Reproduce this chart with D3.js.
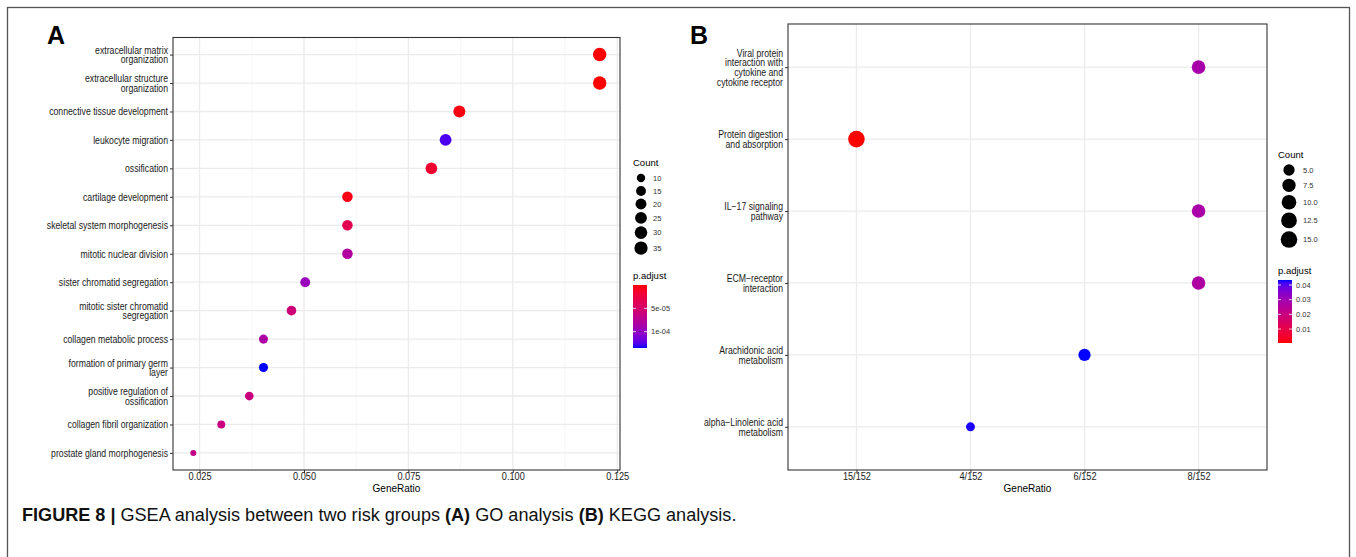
<!DOCTYPE html>
<html>
<head>
<meta charset="utf-8">
<script src="https://cdn.jsdelivr.net/npm/d3@7"></script>
<style>
  body { margin: 0; background: #fff; }
  svg { display: block; font-family: "Liberation Sans", Arial, sans-serif; }
</style>
</head>
<body>
<svg id="chart" width="1356" height="557"></svg>
<script>
// Panel A - GO terms (top to bottom)
const goTerms = [
    'extracellular matrix\norganization',
    'extracellular structure\norganization',
    'connective tissue development',
    'leukocyte migration',
    'ossification',
    'cartilage development',
    'skeletal system morphogenesis',
    'mitotic nuclear division',
    'sister chromatid segregation',
    'mitotic sister chromatid\nsegregation',
    'collagen metabolic process',
    'formation of primary germ\nlayer',
    'positive regulation of\nossification',
    'collagen fibril organization',
    'prostate gland morphogenesis'
];
const goRatio = [0.1208, 0.1208, 0.0872, 0.0839, 0.0805, 0.0604, 0.0604, 0.0604, 0.0503, 0.0470, 0.0403, 0.0403, 0.0369, 0.0302, 0.0235];
const goCount = [36, 36, 26, 25, 24, 18, 18, 18, 15, 14, 12, 12, 11, 9, 7];
const goPadj = [2e-9, 2e-9, 4e-6, 1.27e-4, 1.6e-5, 5e-6, 3.5e-5, 8.1e-5, 9.7e-5, 5.7e-5, 8.4e-5, 1.35e-4, 6.1e-5, 6.3e-5, 6.7e-5];
const goTicks = [0.025, 0.050, 0.075, 0.100, 0.125];
const goCountBreaks = [10, 15, 20, 25, 30, 35];
const goPadjBreaks = [5e-5, 1e-4];
const goPadjLabels = ['5e-05', '1e-04'];

// Panel B - KEGG pathways (top to bottom)
const keggTerms = [
    'Viral protein\ninteraction with\ncytokine and\ncytokine receptor',
    'Protein digestion\nand absorption',
    'IL\u221217 signaling\npathway',
    'ECM\u2212receptor\ninteraction',
    'Arachidonic acid\nmetabolism',
    'alpha\u2212Linolenic acid\nmetabolism'
];
const keggRatio = ['8/152', '15/152', '8/152', '8/152', '6/152', '4/152'];
const keggCount = [8, 15, 8, 8, 6, 4];
const keggPadj = [0.0284, 0.0005, 0.0280, 0.0270, 0.0434, 0.0430];
const keggTicks = ['15/152', '4/152', '6/152', '8/152'];
const keggCountBreaks = [5, 7.5, 10, 12.5, 15];
const keggPadjBreaks = [0.01, 0.02, 0.03, 0.04];

const svg = d3.select('#chart');

// Outer figure frame
svg.append('rect')
    .attr('x', 7.5).attr('y', 7.5)
    .attr('width', 1342).attr('height', 620)
    .attr('fill', 'none')
    .attr('stroke', '#555')
    .attr('stroke-width', 1.3);

// ggplot style 5% expansion for continuous axis
const expand = ([a, b]) => { const d = (b - a) * 0.05; return [a - d, b + d]; };

// ggplot area_pal style size scale (radius linear in sqrt of rescaled count)
const sizeScale = (counts, range) => {
    const [lo, hi] = d3.extent(counts);
    const s = d3.scaleSqrt().domain([0, hi - lo]).range(range);
    return c => s(c - lo);
};

// horizontal squeeze of the narrow axis font in the original figure
const narrow = 0.87;

function drawPanel(cfg) {
    const { left, right, top, bottom, x, y, r, color } = cfg;
    const g = svg.append('g');
    const lineH = 9.6;

    // Panel letter
    g.append('text')
        .attr('x', cfg.letterX).attr('y', 44)
        .attr('font-weight', 'bold')
        .attr('font-size', 25)
        .text(cfg.letter);

    // Grid lines
    (cfg.minorX || []).forEach(v => {
        g.append('line')
            .attr('x1', x(v)).attr('x2', x(v))
            .attr('y1', top).attr('y2', bottom)
            .attr('stroke', '#f2f2f2').attr('stroke-width', 0.7);
    });
    g.selectAll('.vgrid')
        .data(cfg.xTicks)
        .enter()
        .append('line')
        .attr('x1', d => x(d)).attr('x2', d => x(d))
        .attr('y1', top).attr('y2', bottom)
        .attr('stroke', '#ebebeb').attr('stroke-width', 1.3);
    g.selectAll('.hgrid')
        .data(y.domain())
        .enter()
        .append('line')
        .attr('x1', left).attr('x2', right)
        .attr('y1', d => y(d)).attr('y2', d => y(d))
        .attr('stroke', '#ebebeb').attr('stroke-width', 1.3);

    // Points
    g.selectAll('.dot')
        .data(cfg.data)
        .enter()
        .append('circle')
        .attr('cx', d => x(d.x))
        .attr('cy', d => y(d.term))
        .attr('r', d => r(d.count))
        .attr('fill', d => color(d.p));

    // Panel border
    g.append('rect')
        .attr('x', left).attr('y', top)
        .attr('width', right - left).attr('height', bottom - top)
        .attr('fill', 'none')
        .attr('stroke', '#333').attr('stroke-width', 1.1);

    // Y axis with multi-line labels
    const ay = g.append('g')
        .attr('transform', `translate(${left},0)`)
        .call(d3.axisLeft(y).tickSize(3).tickPadding(2));
    ay.select('.domain').remove();
    ay.selectAll('line').attr('stroke', '#333');
    ay.selectAll('text')
        .attr('font-size', 10)
        .attr('fill', '#1a1a1a')
        .attr('font-family', null)
        .each(function (d) {
            const lines = d.split('\n');
            const t = d3.select(this).text(null).attr('dy', null).attr('x', null)
                .attr('transform', `translate(-5,0) scale(${narrow},1)`);
            lines.forEach((l, i) => {
                t.append('tspan')
                    .attr('x', 0)
                    .attr('y', (i - (lines.length - 1) / 2) * lineH)
                    .attr('dy', '0.35em')
                    .text(l);
            });
        });

    // X axis
    const ax = g.append('g')
        .attr('transform', `translate(0,${bottom})`)
        .call(d3.axisBottom(x).tickValues(cfg.xTicks).tickSize(3).tickPadding(0).tickFormat(cfg.xFormat));
    ax.select('.domain').remove();
    ax.selectAll('line').attr('stroke', '#333');
    ax.selectAll('text')
        .attr('font-size', 10)
        .attr('fill', '#1a1a1a')
        .attr('font-family', null)
        .attr('transform', `scale(0.92,1)`)
        .attr('x', function () { return 0; });
    ax.selectAll('.tick').each(function (d) {
        d3.select(this).select('text').attr('transform', 'scale(0.92,1)');
    });

    // X axis title
    g.append('text')
        .attr('x', (left + right) / 2)
        .attr('y', 492)
        .attr('text-anchor', 'middle')
        .attr('font-size', 10)
        .attr('fill', '#000')
        .text('GeneRatio');

    // Count legend
    const lg = cfg.legend;
    g.append('text')
        .attr('x', lg.x).attr('y', lg.countY)
        .attr('font-size', 9.5)
        .text('Count');
    let cy = lg.countY + 12;
    const keys = cfg.countBreaks.map((c, i) => {
        if (i > 0) cy += Math.max(lg.minGap, r(cfg.countBreaks[i - 1]) + r(c) + lg.gapPad);
        return { c, cy };
    });
    g.selectAll('.key')
        .data(keys)
        .enter()
        .append('circle')
        .attr('cx', lg.x + lg.keyDx)
        .attr('cy', d => d.cy)
        .attr('r', d => r(d.c))
        .attr('fill', '#000');
    g.selectAll('.keylab')
        .data(keys)
        .enter()
        .append('text')
        .attr('x', lg.x + lg.labDx)
        .attr('y', d => d.cy)
        .attr('dy', '0.35em')
        .attr('font-size', 7.5)
        .attr('fill', '#333')
        .text(d => cfg.countFormat(d.c));

    // p.adjust colour bar
    g.append('text')
        .attr('x', lg.x).attr('y', lg.barTop - 6)
        .attr('font-size', 9.5)
        .text('p.adjust');
    const barScale = d3.scaleLinear()
        .domain(color.domain())
        .range(cfg.barReversed ? [lg.barTop, lg.barTop + lg.barH] : [lg.barTop + lg.barH, lg.barTop]);
    const gradId = 'grad' + cfg.letter;
    const grad = svg.append('defs').append('linearGradient')
        .attr('id', gradId)
        .attr('x1', 0).attr('x2', 0).attr('y1', 0).attr('y2', 1);
    d3.range(0, 1.0001, 0.05).forEach(t => {
        const v = barScale.invert(lg.barTop + t * lg.barH);
        grad.append('stop').attr('offset', t).attr('stop-color', color(v));
    });
    g.append('rect')
        .attr('x', lg.x).attr('y', lg.barTop)
        .attr('width', 14).attr('height', lg.barH)
        .attr('fill', `url(#${gradId})`);
    cfg.padjBreaks.forEach((b, i) => {
        const by = barScale(b);
        g.append('line').attr('x1', lg.x).attr('x2', lg.x + 3).attr('y1', by).attr('y2', by).attr('stroke', '#fff').attr('stroke-width', 0.8);
        g.append('line').attr('x1', lg.x + 11).attr('x2', lg.x + 14).attr('y1', by).attr('y2', by).attr('stroke', '#fff').attr('stroke-width', 0.8);
        g.append('text')
            .attr('x', lg.x + 18).attr('y', by)
            .attr('dy', '0.35em')
            .attr('font-size', 7.5)
            .attr('fill', '#333')
            .text(cfg.padjLabels[i]);
    });
}

// Panel A scales
const xA = d3.scaleLinear().domain(expand(d3.extent(goRatio))).range([173, 620]);
const yA = d3.scalePoint().domain(goTerms).range([37.5, 470]).padding(0.6);
const colorA = d3.scaleLinear().domain(d3.extent(goPadj)).range(['red', 'blue']).interpolate(d3.interpolateLab);
drawPanel({
    letter: 'A', letterX: 47,
    left: 173, right: 620, top: 37.5, bottom: 470,
    x: xA, y: yA,
    r: sizeScale(goCount, [3, 6.7]),
    color: colorA,
    xTicks: goTicks,
    minorX: d3.pairs(goTicks).map(([a, b]) => (a + b) / 2),
    xFormat: d3.format('.3f'),
    data: goTerms.map((t, i) => ({ term: t, x: goRatio[i], count: goCount[i], p: goPadj[i] })),
    countBreaks: goCountBreaks,
    countFormat: d => d,
    padjBreaks: goPadjBreaks,
    padjLabels: goPadjLabels,
    barReversed: true,
    legend: { x: 633, countY: 166, keyDx: 8, labDx: 20, minGap: 13, gapPad: 2.5, barTop: 285, barH: 63 }
});

// Panel B scales
const xB = d3.scalePoint().domain(keggTicks).range([788, 1267]).padding(0.6);
const yB = d3.scalePoint().domain(keggTerms).range([24, 470]).padding(0.6);
const colorB = d3.scaleLinear().domain(d3.extent(keggPadj)).range(['red', 'blue']).interpolate(d3.interpolateLab);
drawPanel({
    letter: 'B', letterX: 690,
    left: 788, right: 1267, top: 24, bottom: 470,
    x: xB, y: yB,
    r: sizeScale(keggCount, [4.5, 8.3]),
    color: colorB,
    xTicks: keggTicks,
    minorX: [],
    xFormat: d => d,
    data: keggTerms.map((t, i) => ({ term: t, x: keggRatio[i], count: keggCount[i], p: keggPadj[i] })),
    countBreaks: keggCountBreaks,
    countFormat: d3.format('.1f'),
    padjBreaks: keggPadjBreaks,
    padjLabels: keggPadjBreaks.map(d3.format('.2f')),
    barReversed: false,
    legend: { x: 1278, countY: 158, keyDx: 11, labDx: 25, minGap: 14, gapPad: 3, barTop: 280, barH: 63 }
});

// Caption
const cap = svg.append('text')
    .attr('x', 22).attr('y', 521)
    .attr('font-size', 18)
    .attr('fill', '#111');
cap.append('tspan').attr('font-weight', 'bold').text('FIGURE 8 | ');
cap.append('tspan').text('GSEA analysis between two risk groups ');
cap.append('tspan').attr('font-weight', 'bold').text('(A)');
cap.append('tspan').text(' GO analysis ');
cap.append('tspan').attr('font-weight', 'bold').text('(B)');
cap.append('tspan').text(' KEGG analysis.');
// fit caption to the width it takes in the figure
const capW = cap.node().getComputedTextLength();
cap.attr('font-size', 18 * 715 / capW);
</script>
</body>
</html>
